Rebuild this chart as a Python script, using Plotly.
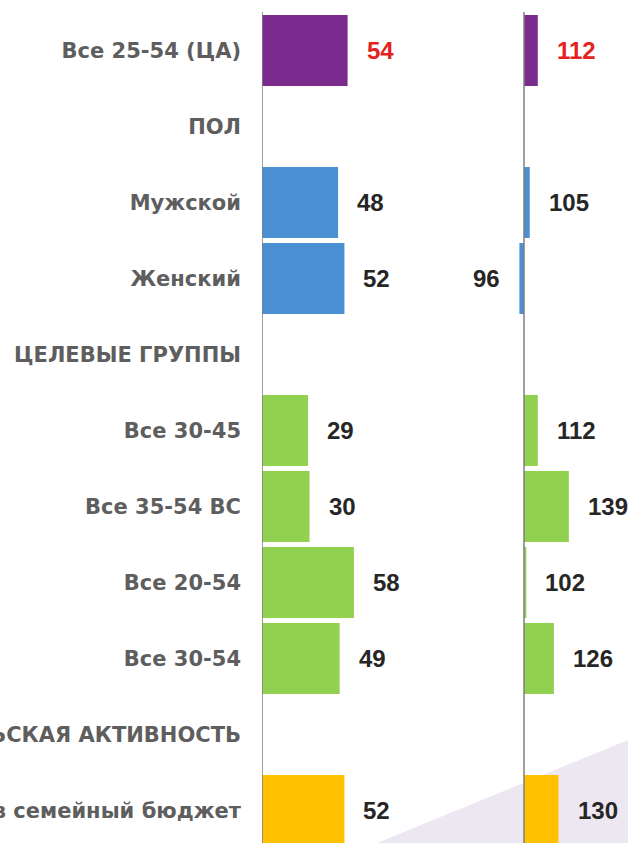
import plotly.graph_objects as go

# Row labels, top to bottom (section headers have no values)
categories = [
    'Все 25-54 (ЦА)',
    'ПОЛ',
    'Мужской',
    'Женский',
    'ЦЕЛЕВЫЕ ГРУППЫ',
    'Все 30-45',
    'Все 35-54 ВС',
    'Все 20-54',
    'Все 30-54',
    'ПОКУПАТЕЛЬСКАЯ АКТИВНОСТЬ',
    'Вклад в семейный бюджет',
]
share_values = [54, None, 48, 52, None, 29, 30, 58, 49, None, 52]
index_values = [112, None, 105, 96, None, 112, 139, 102, 126, None, 130]
bar_colors = ['#7B2A8E', None, '#4A90D2', '#4A90D2', None,
              '#92D050', '#92D050', '#92D050', '#92D050', None, '#FFC000']
index_base = 100

W, H = 628, 843
TOP = 12
label_color = '#5E5E5E'
number_color = '#262626'
highlight_color = '#E3221E'

# pixel layout helpers
left_axis_px, left_scale = 262, 1.585
right_axis_px, right_scale = 524, 1.15
left_dom = (left_axis_px / W, 432 / W)
right_dom = (440 / W, 1.0)
left_range = [0, (left_dom[1] - left_dom[0]) * W / left_scale]
right_range = [index_base - (right_axis_px - right_dom[0] * W) / right_scale,
               index_base + (right_dom[1] * W - right_axis_px) / right_scale]

row_px = 76
first_center = 50.5
y_top = -(first_center - TOP) / row_px
y_bottom = (H - first_center) / row_px

colors = [c if c else 'rgba(0,0,0,0)' for c in bar_colors]

fig = go.Figure()
fig.add_trace(go.Bar(
    y=categories, x=share_values, orientation='h',
    marker=dict(color=colors, line=dict(width=0)),
    xaxis='x', yaxis='y', hoverinfo='x+y',
))
fig.add_trace(go.Bar(
    y=categories,
    x=[None if v is None else v - index_base for v in index_values],
    base=index_base, orientation='h',
    marker=dict(color=colors, line=dict(width=0)),
    xaxis='x2', yaxis='y', customdata=index_values,
    hovertemplate='%{y}: %{customdata}<extra></extra>',
))

annotations = []
for i, (cat, v) in enumerate(zip(categories, share_values)):
    if v is None:
        continue
    annotations.append(dict(
        x=v, y=cat, xref='x', yref='y', text=str(v), showarrow=False,
        xanchor='left', xshift=17,
        font=dict(family='Liberation Sans, Arial', size=24, weight='bold',
                  color=highlight_color if i == 0 else number_color),
    ))
for i, (cat, v) in enumerate(zip(categories, index_values)):
    if v is None:
        continue
    above = v >= index_base
    annotations.append(dict(
        x=v, y=cat, xref='x2', yref='y', text=str(v), showarrow=False,
        xanchor='left' if above else 'right', xshift=17 if above else -17,
        font=dict(family='Liberation Sans, Arial', size=24, weight='bold',
                  color=highlight_color if i == 0 else number_color),
    ))

shapes = [
    # soft lavender wedge in the lower right corner
    dict(type='path', xref='paper', yref='paper', layer='below',
         path=f'M {377 / W} 0 L 1 {(H - 740) / (H - TOP)} L 1 0 Z',
         fillcolor='#EDE7F1', line=dict(width=0)),
    dict(type='line', xref='x', yref='paper', x0=0, x1=0, y0=0, y1=1,
         line=dict(color='#7F7F7F', width=1.5), layer='above'),
    dict(type='line', xref='x2', yref='paper', x0=index_base, x1=index_base,
         y0=0, y1=1, line=dict(color='#7F7F7F', width=1.5), layer='above'),
]

fig.update_layout(
    width=W, height=H,
    margin=dict(l=0, r=0, t=TOP, b=0),
    paper_bgcolor='white', plot_bgcolor='rgba(0,0,0,0)',
    showlegend=False, bargap=0.066,
    xaxis=dict(domain=list(left_dom), range=left_range, visible=False,
               fixedrange=True),
    xaxis2=dict(domain=list(right_dom), range=right_range, visible=False,
                fixedrange=True),
    yaxis=dict(
        categoryorder='array', categoryarray=categories,
        range=[y_bottom, y_top], showgrid=False, zeroline=False,
        showline=False, ticks='', automargin=False,
        ticklabelstandoff=20,
        tickfont=dict(family='DejaVu Sans, Verdana', size=21, weight='bold',
                      color=label_color),
    ),
    annotations=annotations,
    shapes=shapes,
)

fig.write_html('out.html', config={'displayModeBar': False},
               post_script="document.body.style.margin='0';")
